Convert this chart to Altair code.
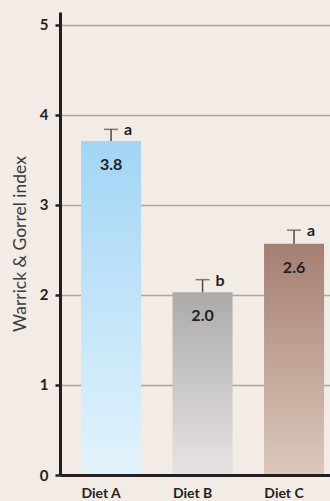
import altair as alt
import pandas as pd

# ---- data ----
diets = ["Diet A", "Diet B", "Diet C"]
means = [3.71, 2.03, 2.57]
uppers = [3.84, 2.17, 2.72]
value_labels = ["3.8", "2.0", "2.6"]
letters = ["a", "b", "a"]

# ---- styles ----
grad_colors = {
    "Diet A": ("#a2d5f5", "#e3f3fc"),
    "Diet B": ("#adaaaa", "#e7e3e3"),
    "Diet C": ("#a47f72", "#ddc8bc"),
}
FONT = "Lato"
DARK = "#231f20"

df = pd.DataFrame({
    "diet": diets,
    "mean": means,
    "upper": uppers,
    "label": value_labels,
    "letter": letters,
})

x_enc = alt.X(
    "diet:N",
    sort=diets,
    scale=alt.Scale(paddingInner=0.344, paddingOuter=0.1475, align=0.78),
    axis=alt.Axis(
        title=None, labelAngle=0, ticks=False, domainColor=DARK, domainWidth=3,
        labelFont=FONT, labelFontSize=14, labelFontWeight="bold", labelColor=DARK,
        labelPadding=11, labelOffset=-10, zindex=1,
    ),
)
y_scale = alt.Scale(domain=[0, 5.144], nice=False, zero=True)
y_axis = alt.Axis(
    title="Warrick & Gorrel index", values=[0, 1, 2, 3, 4, 5],
    grid=True, gridColor="#a9a5a5", gridWidth=1.5,
    domainColor=DARK, domainWidth=3, tickColor=DARK, tickWidth=2.5, tickSize=5,
    labelFont=FONT, labelFontSize=15, labelFontWeight="bold", labelColor=DARK,
    labelPadding=7, titleFont=FONT, titleFontSize=17.5, titleFontWeight="normal",
    titleColor="#3a3a3a", titlePadding=10,
)

base = alt.Chart(df)

bar_layers = []
for d in diets:
    top, bottom = grad_colors[d]
    grad = alt.LinearGradient(
        gradient="linear",
        stops=[alt.GradientStop(color=top, offset=0), alt.GradientStop(color=bottom, offset=1)],
        x1=1, x2=1, y1=0, y2=1,
    )
    bar_layers.append(
        base.transform_filter(alt.datum.diet == d)
        .mark_bar(color=grad, stroke=None)
        .encode(x=x_enc, y=alt.Y("mean:Q", scale=y_scale, axis=y_axis))
    )

err = base.mark_rule(color="#4a4a4a", strokeWidth=1.5).encode(
    x=x_enc, y=alt.Y("mean:Q", scale=y_scale, axis=y_axis), y2="upper:Q"
)
cap = base.mark_tick(color="#4a4a4a", thickness=1.5, size=14, orient="horizontal").encode(
    x=x_enc, y=alt.Y("upper:Q", scale=y_scale, axis=y_axis)
)
vals = base.mark_text(
    font=FONT, fontSize=16, fontWeight="bold", color=DARK, baseline="middle", dy=24
).encode(x=x_enc, y=alt.Y("mean:Q", scale=y_scale, axis=y_axis), text="label:N")
lets = base.mark_text(
    font=FONT, fontSize=16, fontWeight="bold", color=DARK, align="left",
    baseline="alphabetic", dx=13, dy=6,
).encode(x=x_enc, y=alt.Y("upper:Q", scale=y_scale, axis=y_axis), text="letter:N")

chart = alt.layer(*bar_layers, err, cap, vals, lets).properties(
    width=270, height=463,
    background="#f3ebe5",
    padding={"left": 60, "top": 12, "right": 0, "bottom": 26},
    autosize=alt.AutoSizeParams(type="none"),
).configure_view(stroke=None)

chart.save("out.html", embed_options={"renderer": "svg", "actions": False})
